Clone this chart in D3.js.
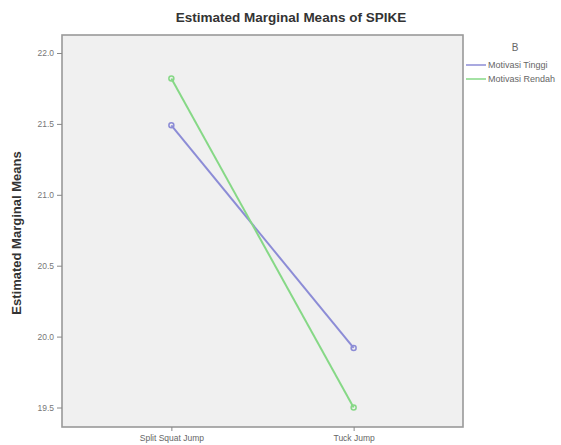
<!DOCTYPE html>
<html><head><meta charset="utf-8">
<script src="https://cdn.jsdelivr.net/npm/d3@7"></script>
<style>body{margin:0;background:#fff}svg{display:block}</style>
</head><body><svg id="c" width="561" height="445"></svg>
<script>
const categories = ["Split Squat Jump", "Tuck Jump"];
const seriesNames = ["Motivasi Tinggi", "Motivasi Rendah"];
const tinggiValues = [21.49, 19.92];
const rendahValues = [21.82, 19.50];
const yTicks = [19.5, 20.0, 20.5, 21.0, 21.5, 22.0];
const colors = ["#8c8cd6", "#86d886"];

const FF = "Arial, 'Liberation Sans', sans-serif";
const svg = d3.select("#c");
const L = 62, R = 463, T = 35, B = 427;
const x = d3.scalePoint().domain(categories).range([L, R]).padding(0.6);
const y = d3.scaleLinear().domain([19.5, 22.0]).range([407.5, 53]);

svg.append("rect").attr("x", L).attr("y", T).attr("width", R - L).attr("height", B - T)
  .attr("fill", "#f0f0f0").attr("stroke", "#999").attr("stroke-width", 1.6);

const yAxis = svg.append("g").attr("transform", `translate(${L},0)`)
  .call(d3.axisLeft(y).tickValues(yTicks).tickFormat(d3.format(".1f")).tickSize(5).tickPadding(3));
yAxis.select(".domain").remove();
yAxis.selectAll("line").attr("stroke", "#888");
yAxis.selectAll("text").attr("fill", "#777").style("font-family", FF).style("font-size", "8.5px");

const xAxis = svg.append("g").attr("transform", `translate(0,${B})`)
  .call(d3.axisBottom(x).tickSize(4).tickPadding(4));
xAxis.select(".domain").remove();
xAxis.selectAll("line").attr("stroke", "#888");
xAxis.selectAll("text").attr("fill", "#666").style("font-family", FF).style("font-size", "8.5px");

const series = [tinggiValues, rendahValues];
const line = d3.line().x((d, i) => x(categories[i])).y(d => y(d));
series.forEach((vals, s) => {
  svg.append("path").attr("d", line(vals)).attr("fill", "none")
    .attr("stroke", colors[s]).attr("stroke-width", 2);
  svg.selectAll(null).data(vals).enter().append("circle")
    .attr("cx", (d, i) => x(categories[i])).attr("cy", d => y(d)).attr("r", 2.5)
    .attr("fill", "none").attr("stroke", colors[s]).attr("stroke-width", 1.5);
});

svg.append("text").attr("x", 291).attr("y", 22).attr("text-anchor", "middle")
  .style("font-family", FF).style("font-size", "13.5px").style("font-weight", "bold")
  .attr("fill", "#333").text("Estimated Marginal Means of SPIKE");

svg.append("text").attr("transform", "translate(21,233) rotate(-90)").attr("text-anchor", "middle")
  .style("font-family", FF).style("font-size", "13px").style("font-weight", "bold")
  .attr("fill", "#333").text("Estimated Marginal Means");

svg.append("text").attr("x", 515).attr("y", 51).attr("text-anchor", "middle")
  .style("font-family", FF).style("font-size", "10px").attr("fill", "#666").text("B");
seriesNames.forEach((n, i) => {
  const yy = 65 + i * 14;
  svg.append("line").attr("x1", 466).attr("x2", 486).attr("y1", yy).attr("y2", yy)
    .attr("stroke", colors[i]).attr("stroke-width", 1.5);
  svg.append("text").attr("x", 488).attr("y", yy + 3)
    .style("font-family", FF).style("font-size", "9px").attr("fill", "#666").text(n);
});
</script></body></html>
